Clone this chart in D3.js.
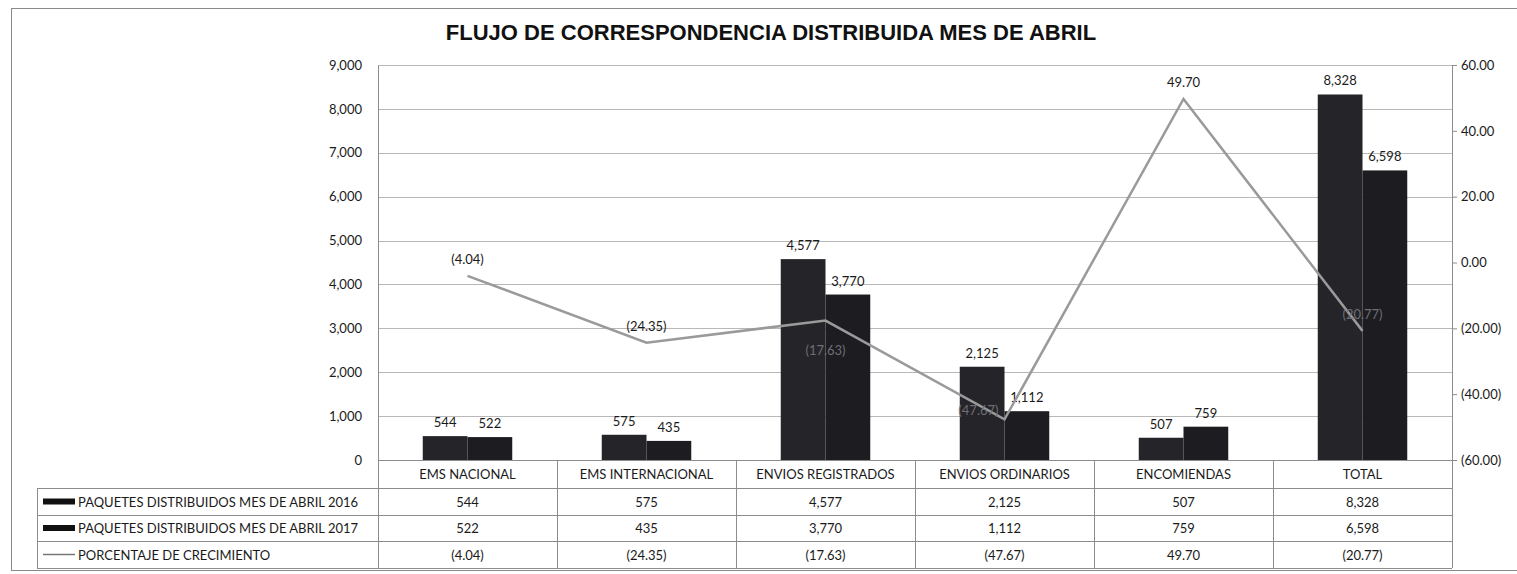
<!DOCTYPE html>
<meta charset="utf-8">
<style>
body { margin: 0; background: #fff; }
text { font-family: Lato, "Open Sans", sans-serif; font-size: 13px; fill: #1a1a1a; }
.grid line { stroke: #b8b8b8; stroke-width: 1; }
.axis path, .axis line { stroke: #8c8c8c; }
</style>
<svg width="1517" height="574"></svg>
<script src="https://cdn.jsdelivr.net/npm/d3@7"></script>
<script>

// data
var categories = ["EMS NACIONAL", "EMS INTERNACIONAL", "ENVIOS REGISTRADOS", "ENVIOS ORDINARIOS", "ENCOMIENDAS", "TOTAL"];
var abril2016 = [544, 575, 4577, 2125, 507, 8328];
var abril2017 = [522, 435, 3770, 1112, 759, 6598];
var crecimiento = [-4.04, -24.35, -17.63, -47.67, 49.70, -20.77];
var leftTicks = [0, 1000, 2000, 3000, 4000, 5000, 6000, 7000, 8000, 9000];
var rightTicks = [-60, -40, -20, 0, 20, 40, 60];
var seriesNames = ["PAQUETES DISTRIBUIDOS MES DE ABRIL 2016", "PAQUETES DISTRIBUIDOS MES DE ABRIL 2017", "PORCENTAJE DE CRECIMIENTO"];

// where each growth label sits relative to its point
var labelPlace = ["above", "above", "below", "left", "above", "above"];

var svg = d3.select("svg"),
    margin = {top: 65, left: 378, right: 65, bottom: 114},
    width = 1452 - margin.left,
    height = 460 - margin.top;

var fmtInt = d3.format(",");
var fmtPct = function(v) { return v < 0 ? "(" + Math.abs(v).toFixed(2) + ")" : v.toFixed(2); };

// outer chart frame
svg.append("rect")
    .attr("x", 11.5).attr("y", 8.5)
    .attr("width", 1520).attr("height", 562)
    .attr("fill", "none").attr("stroke", "#8a8a8a");

svg.append("text")
    .attr("x", 771).attr("y", 40)
    .attr("text-anchor", "middle")
    .style("font-family", "'Liberation Sans', Arial, sans-serif")
    .style("font-weight", "bold")
    .style("font-size", "22px")
    .style("fill", "#111")
    .text("FLUJO DE CORRESPONDENCIA DISTRIBUIDA MES DE ABRIL");

var x = d3.scaleBand().domain(categories).range([0, width]),
    x1 = d3.scaleBand().domain(["2016", "2017"]).range([0, x.bandwidth()]).paddingInner(0).paddingOuter(1),
    y = d3.scaleLinear().domain([0, 9000]).range([height, 0]),
    y2 = d3.scaleLinear().domain([-60, 60]).range([height, 0]);

var g = svg.append("g")
    .attr("transform", "translate(" + margin.left + "," + margin.top + ")");

// gridlines
g.append("g")
    .attr("class", "grid")
    .selectAll("line")
    .data(leftTicks)
    .enter().append("line")
      .attr("x1", 0).attr("x2", width)
      .attr("y1", function(d) { return Math.round(y(d)) + 0.5; })
      .attr("y2", function(d) { return Math.round(y(d)) + 0.5; });

// left axis
g.append("g")
    .attr("class", "axis axis--y")
    .call(d3.axisLeft(y).tickValues(leftTicks).tickFormat(fmtInt).tickSize(0).tickPadding(16))
    .call(function(a) { a.select(".domain").attr("stroke", "#8c8c8c"); })
    .selectAll("text").style("font-size", "13px").style("fill", "#1a1a1a");

// right axis
g.append("g")
    .attr("class", "axis axis--y2")
    .attr("transform", "translate(" + width + ",0)")
    .call(d3.axisRight(y2).tickValues(rightTicks).tickFormat(fmtPct).tickSize(5).tickSizeOuter(0).tickPadding(4))
    .selectAll("text").style("font-size", "13px").style("fill", "#1a1a1a");

// bars
var rows = categories.map(function(c, i) {
  return {cat: c, vals: [{k: "2016", v: abril2016[i]}, {k: "2017", v: abril2017[i]}]};
});

var groups = g.selectAll(".cat")
    .data(rows)
    .enter().append("g")
      .attr("class", "cat")
      .attr("transform", function(d) { return "translate(" + x(d.cat) + ",0)"; });

groups.selectAll("rect")
    .data(function(d) { return d.vals; })
    .enter().append("rect")
      .attr("x", function(d) { return x1(d.k); })
      .attr("y", function(d) { return y(d.v); })
      .attr("width", x1.bandwidth())
      .attr("height", function(d) { return height - y(d.v); })
      .attr("fill", function(d) { return d.k === "2016" ? "#252429" : "#1d1c21"; });

groups.selectAll(".vlab")
    .data(function(d) { return d.vals; })
    .enter().append("text")
      .attr("class", "vlab")
      .attr("x", function(d) { return x1(d.k) + x1.bandwidth() / 2; })
      .attr("y", function(d) { return y(d.v) - 9; })
      .attr("text-anchor", "middle")
      .text(function(d) { return fmtInt(d.v); });

// growth line
var pts = categories.map(function(c, i) { return [x(c) + x.bandwidth() / 2, y2(crecimiento[i])]; });

g.append("path")
    .datum(pts)
    .attr("fill", "none")
    .attr("stroke", "#9a9a9a")
    .attr("stroke-width", 2.5)
    .attr("d", d3.line());

g.selectAll(".plab")
    .data(crecimiento)
    .enter().append("text")
      .attr("class", "plab")
      .attr("x", function(d, i) { return pts[i][0] + (labelPlace[i] === "left" ? -6 : 0); })
      .attr("y", function(d, i) {
        var p = labelPlace[i];
        return pts[i][1] + (p === "above" ? -12 : p === "below" ? 34 : -4);
      })
      .attr("text-anchor", function(d, i) { return labelPlace[i] === "left" ? "end" : "middle"; })
      .style("fill", function(d, i) { return i === 2 || i === 3 || i === 5 ? "#6e6e74" : "#1a1a1a"; })
      .text(fmtPct);

// data table under the plot
var rowY = [height, height + 28, height + 55, height + 81, height + 108];
var tableLeft = 37 - margin.left;
var tg = g.append("g").attr("class", "table");

// horizontal rules
tg.selectAll(".hr")
    .data(rowY)
    .enter().append("line")
      .attr("x1", function(d, i) { return i === 0 ? 0 : tableLeft; })
      .attr("x2", width)
      .attr("y1", function(d) { return d + 0.5; })
      .attr("y2", function(d) { return d + 0.5; })
      .attr("stroke", "#8c8c8c");

// vertical rules
var colEdges = categories.map(function(c) { return x(c); }).concat([width]);
tg.selectAll(".vr")
    .data(colEdges)
    .enter().append("line")
      .attr("x1", function(d) { return d + 0.5; })
      .attr("x2", function(d) { return d + 0.5; })
      .attr("y1", height)
      .attr("y2", rowY[4])
      .attr("stroke", "#8c8c8c");

tg.append("line")
    .attr("x1", tableLeft + 0.5).attr("x2", tableLeft + 0.5)
    .attr("y1", rowY[1]).attr("y2", rowY[4])
    .attr("stroke", "#8c8c8c");

// category header row
tg.selectAll(".hdr")
    .data(categories)
    .enter().append("text")
      .attr("x", function(d) { return x(d) + x.bandwidth() / 2; })
      .attr("y", (rowY[0] + rowY[1]) / 2 + 5)
      .attr("text-anchor", "middle")
      .text(function(d) { return d; });

var tableRows = [abril2016.map(fmtInt), abril2017.map(fmtInt), crecimiento.map(fmtPct)];

tableRows.forEach(function(vals, r) {
  var cy = (rowY[r + 1] + rowY[r + 2]) / 2 + 5;
  tg.selectAll(".cell" + r)
      .data(vals)
      .enter().append("text")
        .attr("x", function(d, i) { return x(categories[i]) + x.bandwidth() / 2; })
        .attr("y", cy)
        .attr("text-anchor", "middle")
        .text(function(d) { return d; });

  // legend key
  if (r < 2) {
    tg.append("rect")
        .attr("x", tableLeft + 6).attr("y", cy - 8)
        .attr("width", 32).attr("height", 6)
        .attr("fill", "#111");
  } else {
    tg.append("line")
        .attr("x1", tableLeft + 6).attr("x2", tableLeft + 38)
        .attr("y1", cy - 5).attr("y2", cy - 5)
        .attr("stroke", "#777").attr("stroke-width", 1.5);
  }
  tg.append("text")
      .attr("x", tableLeft + 41)
      .attr("y", cy)
      .text(seriesNames[r]);
});

</script>
